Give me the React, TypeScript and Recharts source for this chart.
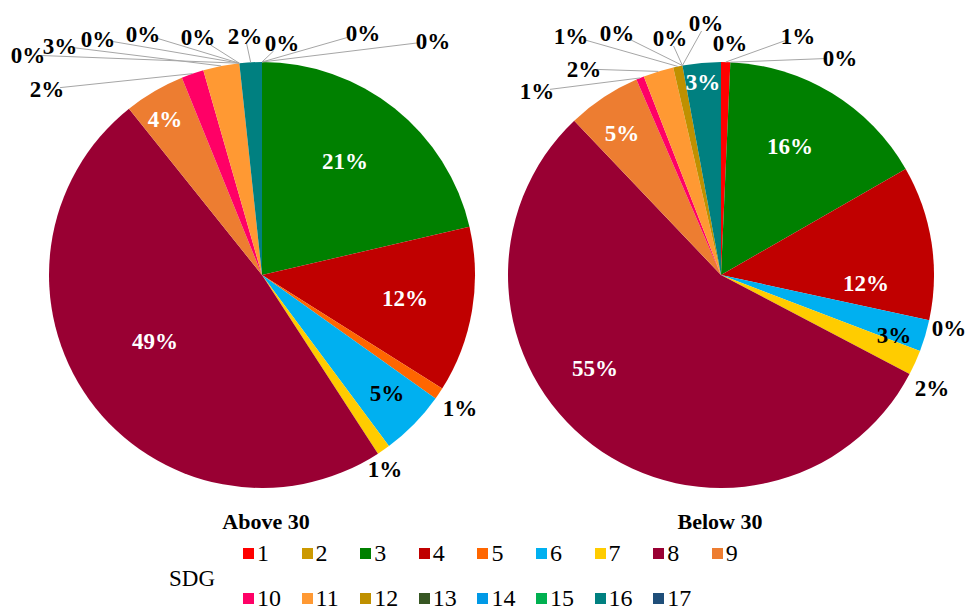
import { PieChart, Pie, Cell } from 'recharts'

const SDG = ['1', '2', '3', '4', '5', '6', '7', '8', '9', '10', '11', '12', '13', '14', '15', '16', '17']
const COLORS = ['#ff0000', '#cc9900', '#008000', '#c00000', '#ff6600', '#00b0f0', '#ffcc00', '#990033', '#ed7d31',
  '#ff0066', '#ff9933', '#bf9000', '#375623', '#0099e6', '#00b050', '#008080', '#1f4e79']

// share of each SDG
const ABOVE_30 = [0, 0, 21.4, 12.6, 0.9, 5, 1, 48.5, 4.6, 1.7, 2.75, 0, 0, 0, 0, 1.7, 0]
const BELOW_30 = [0.7, 0, 16, 11.7, 0, 2.4, 1.9, 55.2, 5.6, 0.6, 2.3, 0.7, 0, 0, 0, 2.9, 0]

// the rounded labels as printed
const ABOVE_30_LABELS = ['0%', '0%', '21%', '12%', '1%', '5%', '1%', '49%', '4%', '2%', '3%', '0%', '0%', '0%', '0%', '2%', '0%']
const BELOW_30_LABELS = ['1%', '0%', '16%', '12%', '0%', '3%', '2%', '55%', '5%', '1%', '2%', '1%', '0%', '0%', '0%', '3%', '0%']

type LabelPos = { dx: number; dy: number; color?: string; line?: boolean }

// label placement relative to the pie centre (Excel-style)
const ABOVE_LAYOUT: LabelPos[] = [
  { dx: 101, dy: -242, line: true },
  { dx: 171, dy: -234, line: true },
  { dx: 83, dy: -114, color: '#fff' },
  { dx: 143, dy: 23, color: '#fff' },
  { dx: 198, dy: 133 },
  { dx: 125, dy: 118 },
  { dx: 123, dy: 194 },
  { dx: -107, dy: 66, color: '#fff' },
  { dx: -97, dy: -156, color: '#fff' },
  { dx: -215, dy: -186, line: true },
  { dx: -202, dy: -229, line: true },
  { dx: -234, dy: -220, line: true },
  { dx: -164, dy: -236, line: true },
  { dx: -119, dy: -241, line: true },
  { dx: -64, dy: -238, line: true },
  { dx: -17, dy: -239, line: true },
  { dx: 20, dy: -232, line: true },
]

const BELOW_LAYOUT: LabelPos[] = [
  { dx: 77, dy: -239, line: true },
  { dx: 119, dy: -217, line: true },
  { dx: 69, dy: -129, color: '#fff' },
  { dx: 145, dy: 8, color: '#fff' },
  { dx: 228, dy: 53 },
  { dx: 173, dy: 60 },
  { dx: 211, dy: 113 },
  { dx: -126, dy: 93, color: '#fff' },
  { dx: -99, dy: -142, color: '#fff' },
  { dx: -184, dy: -184, line: true },
  { dx: -137, dy: -206, line: true },
  { dx: -150, dy: -239, line: true },
  { dx: -104, dy: -242, line: true },
  { dx: -51, dy: -237, line: true },
  { dx: -15, dy: -252, line: true },
  { dx: -18, dy: -193, color: '#fff' },
  { dx: 9, dy: -232 },
]

const FONT = 'Liberation Serif, DejaVu Serif, serif'
const RAD = Math.PI / 180

function makeLabel(labels: string[], layout: LabelPos[]) {
  return (props: any) => {
    const { cx, cy, midAngle, outerRadius, index } = props
    const pos = layout[index]
    const text = labels[index]
    const x = cx + pos.dx
    const y = cy + pos.dy
    let line = null
    if (pos.line) {
      const ax = cx + outerRadius * Math.cos(-midAngle * RAD)
      const ay = cy + outerRadius * Math.sin(-midAngle * RAD)
      const hw = text.length * 5.5 + 2
      const hh = 8
      const vx = ax - x
      const vy = ay - y
      const t = Math.min(vx !== 0 ? hw / Math.abs(vx) : Infinity, vy !== 0 ? hh / Math.abs(vy) : Infinity)
      line = <line x1={x + vx * t} y1={y + vy * t} x2={ax} y2={ay} stroke="#a6a6a6" strokeWidth={1} />
    }
    return (
      <g>
        {line}
        <text x={x} y={y} textAnchor="middle" dominantBaseline="central"
          fill={pos.color || '#000'} style={{ fontFamily: FONT, fontWeight: 'bold', fontSize: 23 }}>
          {text}
        </text>
      </g>
    )
  }
}

const aboveData = SDG.map((name, i) => ({ name, value: ABOVE_30[i] }))
const belowData = SDG.map((name, i) => ({ name, value: BELOW_30[i] }))

export default function App() {
  return (
    <div style={{ position: 'absolute', left: 0, top: 0, width: 979, height: 611, background: '#fff', fontFamily: FONT }}>
      <PieChart width={979} height={500} margin={{ top: 0, right: 0, bottom: 0, left: 0 }}>
        <Pie data={aboveData} dataKey="value" cx={262} cy={275} outerRadius={213} startAngle={90} endAngle={-270}
          stroke="none" isAnimationActive={false} labelLine={false} label={makeLabel(ABOVE_30_LABELS, ABOVE_LAYOUT)}>
          {aboveData.map((_, i) => <Cell key={i} fill={COLORS[i]} />)}
        </Pie>
        <Pie data={belowData} dataKey="value" cx={721} cy={275} outerRadius={213} startAngle={90} endAngle={-270}
          stroke="none" isAnimationActive={false} labelLine={false} label={makeLabel(BELOW_30_LABELS, BELOW_LAYOUT)}>
          {belowData.map((_, i) => <Cell key={i} fill={COLORS[i]} />)}
        </Pie>
      </PieChart>
      <div style={{ position: 'absolute', left: 166, width: 200, top: 510, textAlign: 'center', fontWeight: 'bold', fontSize: 22, lineHeight: '24px' }}>Above 30</div>
      <div style={{ position: 'absolute', left: 620, width: 200, top: 510, textAlign: 'center', fontWeight: 'bold', fontSize: 22, lineHeight: '24px' }}>Below 30</div>
      <SdgLegend />
    </div>
  )
}

function SdgLegend() {
  return (
    <div style={{ position: 'absolute', left: 0, top: 0 }}>
      <div style={{ position: 'absolute', left: 169, top: 566, fontSize: 23, lineHeight: '26px' }}>SDG</div>
      {SDG.map((s, i) => {
        const row = i < 9 ? 0 : 1
        const col = i < 9 ? i : i - 9
        return (
          <div key={s} style={{ position: 'absolute', left: 243 + col * 58.6, top: row === 0 ? 540 : 585, display: 'flex', alignItems: 'center', fontSize: 24, lineHeight: '26px', whiteSpace: 'nowrap' }}>
            <span style={{ display: 'inline-block', width: 11, height: 11, background: COLORS[i], marginRight: 3 }} />
            {s}
          </div>
        )
      })}
    </div>
  )
}
